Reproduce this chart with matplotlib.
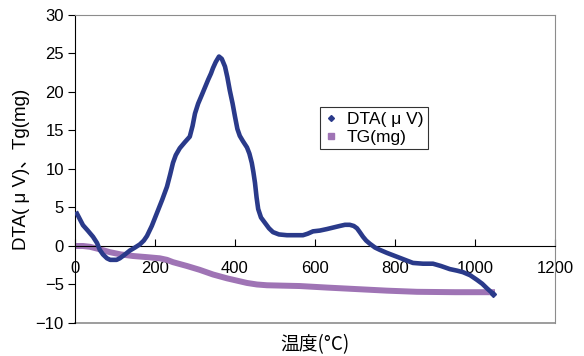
import matplotlib
matplotlib.use("Agg")
import matplotlib.pyplot as plt
from matplotlib.lines import Line2D

plt.rcParams['font.family'] = ['Liberation Sans', 'Noto Sans CJK JP', 'DejaVu Sans']

dta_temp = [5, 12, 20, 32, 45, 55, 62, 70, 80, 88, 95, 104, 112, 125, 137, 150, 162, 172, 180, 192,
            205, 218, 230, 238, 245, 252, 262, 275, 287, 294, 300, 308, 317, 325,
            333, 340, 345, 352, 360, 367, 375, 381, 387, 394, 400, 406, 412, 420, 430, 436,
            442, 446, 450, 454, 458, 465, 475, 485, 495, 510, 530, 550, 570, 582, 595, 612,
            630, 646, 662, 675, 687, 697, 705, 712, 720, 728, 737, 750, 762, 780, 805, 825,
            845, 870, 895, 915, 937, 955, 970, 988, 1005, 1018, 1030, 1045]
dta_val = [4.2, 3.5, 2.7, 2.0, 1.2, 0.4, -0.5, -1.1, -1.6, -1.8, -1.8, -1.8, -1.6, -1.1, -0.6, -0.2, 0.2, 0.7, 1.3, 2.6,
           4.3, 6.0, 7.7, 9.3, 10.8, 11.8, 12.7, 13.5, 14.2, 15.6, 17.2, 18.5, 19.6, 20.6,
           21.6, 22.4, 23.1, 23.9, 24.6, 24.3, 23.3, 21.9, 20.2, 18.5, 16.8, 15.2, 14.3, 13.6, 12.8, 12.0,
           10.8, 9.6, 8.2, 6.3, 4.8, 3.7, 3.0, 2.3, 1.8, 1.5, 1.4, 1.4, 1.4, 1.6, 1.9, 2.0,
           2.2, 2.4, 2.6, 2.75, 2.75, 2.6, 2.3, 1.8, 1.2, 0.7, 0.3, -0.2, -0.5, -0.9, -1.4, -1.8,
           -2.2, -2.3, -2.3, -2.6, -3.0, -3.2, -3.4, -3.8, -4.4, -4.9, -5.5, -6.2]

tg_temp = [0, 20, 37, 60, 87, 115, 145, 180, 212, 230, 245, 280, 312, 345, 380, 405, 430, 455, 480, 520,
           562, 630, 705, 780, 855, 950, 1050]
tg_val = [0.0, 0.0, -0.1, -0.4, -0.8, -1.1, -1.3, -1.45, -1.6, -1.8, -2.1, -2.6, -3.1, -3.7, -4.2, -4.5, -4.8,
          -5.0, -5.1, -5.15, -5.2, -5.4, -5.6, -5.8, -5.95, -6.0, -6.0]

x_ticks = [0, 200, 400, 600, 800, 1000, 1200]
y_ticks = [-10, -5, 0, 5, 10, 15, 20, 25, 30]

dta_color = '#2A3A8A'
tg_color = '#9F74B5'

fig = plt.figure(figsize=(5.84, 3.56), dpi=100)
ax = fig.add_axes([0.1284, 0.0927, 0.8219, 0.8653])

ax.plot(tg_temp, tg_val, color=tg_color, lw=4.3, solid_capstyle='butt', solid_joinstyle='round', zorder=2)
ax.plot(dta_temp, dta_val, color=dta_color, lw=3.3, solid_joinstyle='round', zorder=3)
ax.plot([dta_temp[-1]], [dta_val[-1]], marker='D', ms=3, color=dta_color, zorder=4)

ax.set_xlim(0, 1200)
ax.set_ylim(-10, 30)
ax.set_xticks(x_ticks)
ax.set_yticks(y_ticks)
ax.set_yticklabels([f"{v}".replace('-', '−') for v in y_ticks])

ax.spines['bottom'].set_position(('data', 0))
ax.spines['bottom'].set_color('black')
ax.spines['bottom'].set_linewidth(0.8)
ax.spines['left'].set_color('black')
ax.spines['left'].set_linewidth(0.8)
for s in ['top', 'right']:
    ax.spines[s].set_color('#8c8c8c')
    ax.spines[s].set_linewidth(0.8)
ax.axhline(-10, color='#8c8c8c', lw=1.2, clip_on=False, zorder=1)

ax.tick_params(axis='x', direction='in', length=5, width=0.8, pad=11, labelsize=12, colors='black')
ax.tick_params(axis='y', direction='out', length=5, width=0.8, pad=3, labelsize=12)

ax.set_xlabel('温度(°C)', fontsize=13.5, family=['Noto Sans CJK JP', 'DejaVu Sans'])
ax.xaxis.set_label_coords(0.5, -0.035)
ax.set_ylabel('DTA( μ V)、Tg(mg)', fontsize=13.5, labelpad=4)

handles = [Line2D([], [], ls='none', marker='D', ms=3, color=dta_color),
           Line2D([], [], ls='none', marker='s', ms=5, color=tg_color)]
leg = ax.legend(handles, ['DTA( μ V)', 'TG(mg)'], loc='upper left',
                bbox_to_anchor=(0.51, 0.7), fontsize=12.5, frameon=True, fancybox=False,
                handlelength=0.8, handletextpad=0.5, borderpad=0.25, labelspacing=0.15,
                borderaxespad=0)
leg.get_frame().set_edgecolor('black')
leg.get_frame().set_linewidth(0.8)

fig.savefig('out.png', dpi=100)
